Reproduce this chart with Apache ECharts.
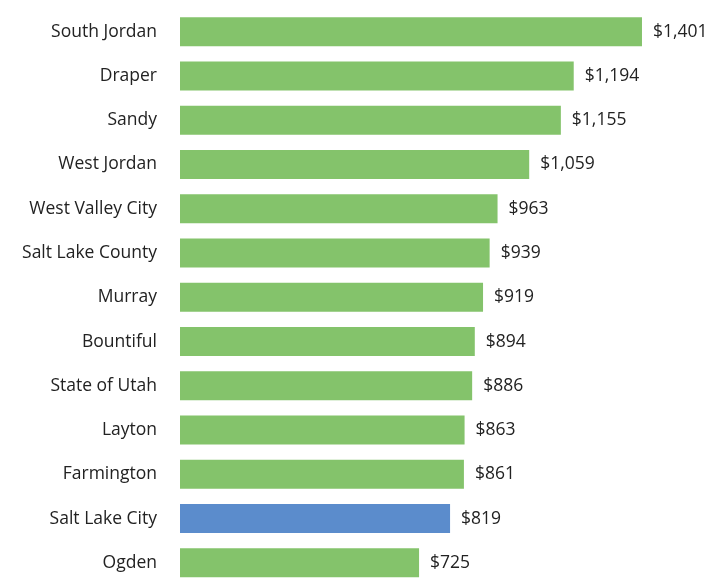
<!DOCTYPE html>
<html><head><meta charset="utf-8">
<script src="https://cdn.jsdelivr.net/npm/echarts@6/dist/echarts.min.js"></script>
<style>html,body{margin:0;padding:0;background:#fff}#c{width:721px;height:585px}</style>
</head><body><div id="c"></div>
<script>
const categories = ["South Jordan","Draper","Sandy","West Jordan","West Valley City","Salt Lake County","Murray","Bountiful","State of Utah","Layton","Farmington","Salt Lake City","Ogden"];
const values = [1401,1194,1155,1059,963,939,919,894,886,863,861,819,725];
const highlight = "Salt Lake City";

const chart = echarts.init(document.getElementById('c'));
chart.setOption({
  animation:false,
  grid:{left:180, top:9.5, width:527.6, height:582.4},
  xAxis:{type:'value', min:0, max:1600, show:false},
  yAxis:{type:'category', data:categories, inverse:true,
    axisLine:{show:false}, axisTick:{show:false},
    axisLabel:{margin:23, fontSize:17.5, color:'#222', fontFamily:'Open Sans'}},
  series:[{type:'bar', barWidth:29,
    data: values.map((v,i)=>({value:v, itemStyle:{color: categories[i]===highlight ? '#5b8ccc' : '#84c36b'}})),
    label:{show:true, position:'right', distance:11, fontSize:17.5, color:'#222', fontFamily:'Open Sans',
      formatter:p=>'$'+p.value.toLocaleString('en-US')}
  }]
});
</script></body></html>
